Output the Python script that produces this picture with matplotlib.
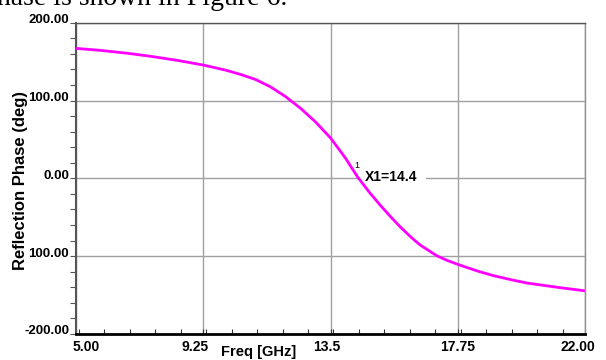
import matplotlib
matplotlib.use("Agg")
import matplotlib.pyplot as plt
import matplotlib.transforms as mtransforms
from matplotlib.patches import Rectangle
from matplotlib.ticker import MultipleLocator, FixedLocator

# ---- data ----
freq_ghz = [5.0, 5.8, 6.7, 7.5, 8.4, 9.25, 10.0, 10.5, 11.0, 11.5, 12.0, 12.5,
            13.0, 13.5, 14.0, 14.4, 14.8, 15.15, 15.5, 15.82, 16.2, 16.49,
            17.05, 17.4, 17.75, 18.4, 18.94, 19.5, 20.06, 21.17, 22.0]
phase_deg = [167, 164.5, 160.8, 156.8, 151.5, 145.6, 139, 133.5, 127, 117.5,
             105, 90, 72.5, 52, 26, 2, -18, -34, -49, -62, -76, -85.5,
             -99.5, -105.5, -110.5, -119, -125, -130, -134.5, -140.5, -144.5]

x_ticks = [5.0, 9.25, 13.5, 17.75, 22.0]
x_tick_labels = ["5.00", "9.25", "13.5", "17.75", "22.00"]
y_ticks = [200, 100, 0, -100, -200]
y_tick_labels = ["200.00", "100.00", "0.00", "100.00", "-200.00"]

marker_x = 14.4
marker_y = 0.0
marker_label = "X1=14.4"
x_label = "Freq [GHz]"
y_label = "Reflection Phase (deg)"
caption = "hase is shown in Figure 6."

plt.rcParams['font.family'] = ['Liberation Sans', 'DejaVu Sans']

fig = plt.figure(figsize=(6.06, 3.6), dpi=100)
ax = fig.add_axes([76/606, 1-334/360, 509/606, (334-22.7)/360])

ax.plot(freq_ghz, phase_deg, color="#ff00ff", lw=2.0, zorder=3,
        solid_joinstyle="round")

ax.set_xlim(5, 22)
ax.set_ylim(-200, 200)

ax.xaxis.set_major_locator(FixedLocator(x_ticks))
ax.set_xticklabels(x_tick_labels, fontsize=10, fontweight="bold")
ax.yaxis.set_major_locator(FixedLocator(y_ticks))
ax.set_yticklabels(y_tick_labels, fontsize=9.5, fontweight="bold")
ax.xaxis.set_minor_locator(MultipleLocator(0.85))
ax.yaxis.set_minor_locator(MultipleLocator(20))

ax.grid(True, which="major", color="#a0a0a0", lw=1.0, zorder=0)
ax.tick_params(axis="x", which="both", direction="in", length=3.5, width=0.8,
               color="#333333", pad=4)
ax.tick_params(axis="y", which="both", direction="out", length=4, width=0.8,
               color="#555555", pad=1)

# shift tick labels slightly like the reference
x_offsets = [(10, 0), (-8, 0), (-4, 0), (0, 0), (-7, 0)]
for lab, (dx, dy) in zip(ax.get_xticklabels(), x_offsets):
    lab.set_transform(lab.get_transform() +
                      mtransforms.ScaledTranslation(dx/100, dy/100, fig.dpi_scale_trans))
for lab in ax.get_yticklabels():
    lab.set_transform(lab.get_transform() +
                      mtransforms.ScaledTranslation(0, 4/100, fig.dpi_scale_trans))

ax.spines["bottom"].set_color("black")
ax.spines["bottom"].set_linewidth(2.0)
ax.spines["left"].set_color("#555555")
ax.spines["left"].set_linewidth(1.5)
ax.spines["top"].set_color("#555555")
ax.spines["top"].set_linewidth(1.0)
ax.spines["right"].set_color("#909090")
ax.spines["right"].set_linewidth(1.0)

ax.set_xlabel(x_label, fontsize=10.5, fontweight="bold", va="center")
ax.xaxis.set_label_coords((259-76)/509, -(352-334)/311.3)
ax.set_ylabel(y_label, fontsize=12, fontweight="bold", va="center")
ax.yaxis.set_label_coords((21-76)/509, (334-180)/311.3)

# marker annotation: white gap in the 0-gridline behind the label
ax.add_patch(Rectangle((marker_x + 0.1, -6), 2.2, 12, fc="white", ec="none", zorder=2))
ax.annotate("1", (marker_x, marker_y), xytext=(-0.5, 9), textcoords="offset points",
            fontsize=6.5, ha="center", va="center", zorder=5)
ax.annotate(marker_label, (marker_x, marker_y), xytext=(5, 1), textcoords="offset points",
            fontsize=10, fontweight="bold", ha="left", va="center", zorder=4)

fig.text(-3/606, 1-5/360, caption, fontsize=20, family=["Liberation Serif", "DejaVu Serif"],
         ha="left", va="baseline")

fig.savefig("out.png", dpi=100)
